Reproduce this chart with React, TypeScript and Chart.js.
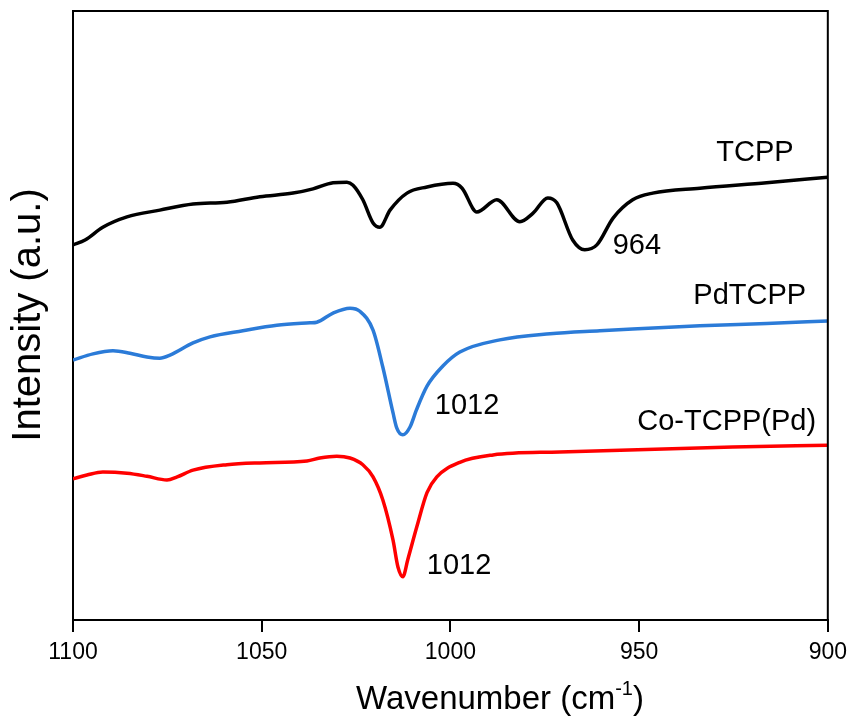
import { useEffect, useRef } from 'react';
import { Chart, registerables } from 'chart.js';

Chart.register(...registerables);

// ---- data (wavenumber in cm^-1, intensity in arbitrary units, curves offset) ----
const xTicks = [1100, 1050, 1000, 950, 900];

const tcppWavenumber = [1100, 1096.8, 1092.1, 1085.7, 1077, 1068.2, 1059.2, 1050.5, 1041.7, 1036.4, 1031.1, 1027.4, 1025.8, 1023.2, 1020.5, 1018.7, 1016, 1011.5, 1006.2, 999.3, 996.9, 993, 987.7, 981.6, 978.1, 974.2, 971.8, 967.6, 964.4, 961.2, 956.9, 951.7, 946.4, 933.9, 916.2, 900];
const tcppIntensity = [61.6, 62.4, 64.5, 66.2, 67.3, 68.3, 68.6, 69.5, 70.1, 70.8, 71.8, 71.9, 71.4, 69.0, 65.2, 64.5, 67.3, 70.1, 71.1, 71.7, 70.9, 67.0, 69.0, 65.4, 66.8, 69.3, 68.5, 62.4, 60.8, 61.6, 66.0, 69.0, 70.1, 70.9, 71.8, 72.7];

const pdtcppWavenumber = [1100, 1094.7, 1089.4, 1084.9, 1080.4, 1077, 1074.3, 1068.2, 1063.7, 1055, 1046, 1037.2, 1035.4, 1031.1, 1026.6, 1024, 1020.5, 1017.9, 1015.2, 1014.2, 1012.6, 1010.7, 1009, 1006.2, 1002, 997.5, 986.9, 973.6, 960.4, 951.7, 933.9, 916.2, 900];
const pdtcppIntensity = [42.7, 43.7, 44.2, 43.8, 43.2, 43.0, 43.5, 45.5, 46.5, 47.5, 48.4, 48.8, 48.9, 50.4, 51.2, 50.7, 47.6, 41.5, 34.0, 31.5, 30.4, 31.7, 34.5, 38.4, 41.7, 44.0, 46.0, 47.0, 47.5, 47.8, 48.3, 48.7, 49.1];

const cotcppWavenumber = [1100, 1096.3, 1092.1, 1085.7, 1080.4, 1075.1, 1072.4, 1068.2, 1059.2, 1050.5, 1038, 1034.6, 1030.1, 1026.6, 1023.2, 1020.5, 1017.9, 1015.2, 1013.9, 1012.6, 1011.3, 1008.9, 1006.2, 1003.6, 997.5, 988.7, 971, 925.2, 900];
const cotcppIntensity = [23.2, 23.8, 24.3, 24.1, 23.6, 23.0, 23.5, 24.6, 25.5, 25.8, 26.1, 26.6, 26.9, 26.6, 25.5, 23.5, 19.7, 13.1, 8.7, 7.1, 9.9, 15.3, 20.9, 23.5, 25.9, 27.1, 27.6, 28.4, 28.7];

const seriesNames = ['TCPP', 'PdTCPP', 'Co-TCPP(Pd)'];
const seriesColors = ['#000000', '#2b7bd8', '#ff0000'];

const annotationTexts = ['TCPP', '964', 'PdTCPP', '1012', 'Co-TCPP(Pd)', '1012'];
const annotationX = [919.3, 950.6, 920.7, 995.6, 926.8, 997.7];
const annotationY = [76.7, 61.4, 53.2, 35.1, 32.5, 8.9];

const xTitleMain = 'Wavenumber (cm';
const xTitleSup = '-1';
const xTitleEnd = ')';
const yTitle = 'Intensity (a.u.)';

const FONT = "'Liberation Sans', Arial, sans-serif";

const toPoints = (xs: number[], ys: number[]) => xs.map((x, i) => ({ x, y: ys[i] }));

const decorPlugin = {
  id: 'decor',
  afterDraw(chart: any) {
    const { ctx, chartArea, scales } = chart;
    const xs = scales.x;
    const ys = scales.y;
    ctx.save();
    // frame top & right
    ctx.strokeStyle = '#000';
    ctx.lineWidth = 2;
    ctx.beginPath();
    ctx.moveTo(chartArea.left, chartArea.top);
    ctx.lineTo(chartArea.right, chartArea.top);
    ctx.lineTo(chartArea.right, chartArea.bottom);
    ctx.stroke();

    // annotations
    ctx.fillStyle = '#000';
    ctx.font = `29px ${FONT}`;
    ctx.textAlign = 'center';
    ctx.textBaseline = 'middle';
    annotationTexts.forEach((t, i) => {
      ctx.fillText(t, xs.getPixelForValue(annotationX[i]), ys.getPixelForValue(annotationY[i]));
    });

    // x title with superscript
    const mainFont = `33px ${FONT}`;
    const supFont = `20px ${FONT}`;
    ctx.font = mainFont;
    const w1 = ctx.measureText(xTitleMain).width;
    const w3 = ctx.measureText(xTitleEnd).width;
    ctx.font = supFont;
    const w2 = ctx.measureText(xTitleSup).width;
    const total = w1 + w2 + w3;
    const cx = 500;
    const cy = 697;
    let x0 = cx - total / 2;
    ctx.textAlign = 'left';
    ctx.textBaseline = 'alphabetic';
    const base = cy + 12;
    ctx.font = mainFont;
    ctx.fillText(xTitleMain, x0, base);
    x0 += w1;
    ctx.font = supFont;
    ctx.fillText(xTitleSup, x0, base - 14);
    x0 += w2;
    ctx.font = mainFont;
    ctx.fillText(xTitleEnd, x0, base);

    // y title
    ctx.translate(29, 315);
    ctx.rotate(-Math.PI / 2);
    ctx.font = `40px ${FONT}`;
    ctx.textAlign = 'center';
    ctx.textBaseline = 'middle';
    ctx.fillText(yTitle, 0, 0);
    ctx.restore();
  },
};

export default function App() {
  const ref = useRef<HTMLCanvasElement>(null);
  useEffect(() => {
    document.body.style.margin = '0';
    const canvas = ref.current;
    if (!canvas) return;
    const data = [
      toPoints(tcppWavenumber, tcppIntensity),
      toPoints(pdtcppWavenumber, pdtcppIntensity),
      toPoints(cotcppWavenumber, cotcppIntensity),
    ];
    const chart = new Chart(canvas, {
      type: 'line',
      data: {
        datasets: seriesNames.map((name, i) => ({
          label: name,
          data: data[i],
          borderColor: seriesColors[i],
          backgroundColor: seriesColors[i],
          borderWidth: 3.5,
          pointRadius: 0,
          fill: false,
          cubicInterpolationMode: 'monotone' as const,
        })),
      },
      options: {
        responsive: false,
        animation: false,
        events: [],
        layout: { padding: { top: 11, right: 26, left: 0, bottom: 0 } },
        plugins: {
          legend: { display: false },
          tooltip: { enabled: false },
          title: { display: false },
        },
        scales: {
          x: {
            type: 'linear',
            min: 900,
            max: 1100,
            reverse: true,
            afterBuildTicks: (s: any) => {
              s.ticks = xTicks.map((v) => ({ value: v }));
            },
            afterFit: (s: any) => {
              s.height = 106;
            },
            ticks: {
              color: '#000',
              padding: 7,
              maxRotation: 0,
              font: { size: 23, family: FONT },
              callback: (v: any) => String(v),
            },
            grid: {
              display: true,
              drawOnChartArea: false,
              drawTicks: true,
              tickLength: 12,
              color: '#000',
              lineWidth: 2,
            },
            border: { display: true, color: '#000', width: 2 },
          },
          y: {
            type: 'linear',
            min: 0,
            max: 100,
            afterFit: (s: any) => {
              s.width = 73;
            },
            ticks: { display: false },
            grid: { display: false },
            border: { display: true, color: '#000', width: 2 },
          },
        },
      },
      plugins: [decorPlugin],
    });
    return () => chart.destroy();
  }, []);
  return (
    <div style={{ width: 854, height: 726, position: 'relative' }}>
      <canvas ref={ref} width={854} height={726} style={{ width: 854, height: 726, display: 'block' }} />
    </div>
  );
}
